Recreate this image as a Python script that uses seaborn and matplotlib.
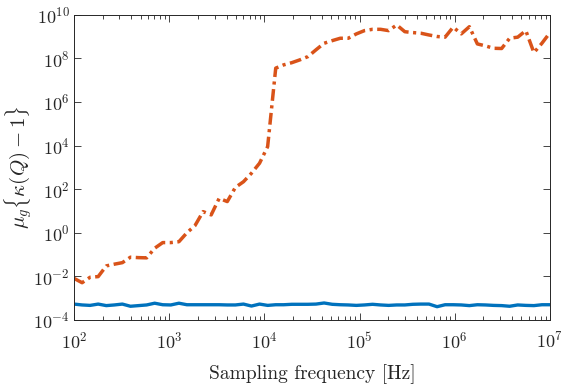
import matplotlib
matplotlib.use('Agg')
import matplotlib.pyplot as plt
import matplotlib.ticker as mticker
import numpy as np
import pandas as pd
import seaborn as sns

# sampling frequencies, log10(Hz)
freq_exp = [2.000, 2.085, 2.169, 2.254, 2.339, 2.424, 2.508, 2.593, 2.678, 2.763,
            2.847, 2.932, 3.017, 3.102, 3.186, 3.271, 3.356, 3.441, 3.525, 3.610,
            3.695, 3.780, 3.864, 3.949, 4.034, 4.119, 4.203, 4.288, 4.373, 4.458,
            4.542, 4.627, 4.712, 4.797, 4.881, 4.966, 5.051, 5.136, 5.220, 5.305,
            5.390, 5.475, 5.559, 5.644, 5.729, 5.814, 5.898, 5.983, 6.068, 6.153,
            6.237, 6.322, 6.407, 6.492, 6.576, 6.661, 6.746, 6.831, 6.915, 7.000]

# log10 of mu_g{kappa(Q)-1}, blue (solid) series
blue_exp = [-3.27, -3.31, -3.33, -3.27, -3.34, -3.31, -3.27, -3.37, -3.34, -3.31,
            -3.23, -3.30, -3.31, -3.23, -3.30, -3.30, -3.30, -3.30, -3.30, -3.31,
            -3.31, -3.27, -3.36, -3.27, -3.33, -3.30, -3.30, -3.28, -3.28, -3.28,
            -3.27, -3.22, -3.28, -3.30, -3.31, -3.33, -3.31, -3.28, -3.31, -3.33,
            -3.31, -3.31, -3.28, -3.27, -3.27, -3.39, -3.30, -3.30, -3.31, -3.34,
            -3.30, -3.31, -3.33, -3.34, -3.37, -3.31, -3.33, -3.34, -3.30, -3.30]

# log10 of mu_g{kappa(Q)-1}, orange (dash-dot) series
orange_exp = [-2.09, -2.29, -2.04, -2.01, -1.52, -1.44, -1.37, -1.12, -1.14, -1.15,
              -0.71, -0.45, -0.45, -0.41, 0.00, 0.33, 0.97, 0.82, 1.58, 1.43,
              2.08, 2.34, 2.73, 3.19, 3.95, 7.55, 7.70, 7.80, 7.93, 8.08,
              8.39, 8.69, 8.81, 8.92, 8.92, 9.12, 9.27, 9.33, 9.33, 9.27,
              9.53, 9.22, 9.18, 9.15, 9.07, 9.00, 8.97, 9.43, 9.12, 9.45,
              8.66, 8.57, 8.46, 8.45, 8.92, 8.97, 9.27, 8.26, 8.69, 9.18]

x_ticks = [1e2, 1e3, 1e4, 1e5, 1e6, 1e7]
y_ticks = [1e-4, 1e-2, 1e0, 1e2, 1e4, 1e6, 1e8, 1e10]

BLUE = '#0072BD'
ORANGE = '#D95319'
INK = '#262626'

sns.set_style('ticks')
plt.rcParams['font.family'] = ['cmr10', 'DejaVu Serif']
plt.rcParams['mathtext.fontset'] = 'cm'
plt.rcParams['axes.formatter.use_mathtext'] = True
plt.rcParams['axes.unicode_minus'] = False


def main():
    freq = 10.0 ** np.array(freq_exp)
    df = pd.DataFrame({
        'freq': np.concatenate([freq, freq]),
        'value': np.concatenate([10.0 ** np.array(blue_exp), 10.0 ** np.array(orange_exp)]),
        'series': ['blue'] * len(freq) + ['orange'] * len(freq),
    })

    fig = plt.figure(figsize=(5.61, 3.85), dpi=100)
    ax = fig.add_axes([74 / 561, 1 - 320 / 385, 476 / 561, (320 - 14.7) / 385])

    sns.lineplot(data=df[df.series == 'blue'], x='freq', y='value',
                 color=BLUE, lw=2.4, ax=ax)
    sns.lineplot(data=df[df.series == 'orange'], x='freq', y='value',
                 color=ORANGE, lw=2.5, linestyle=(0, (3.4, 1.3, 0.9, 1.3)), ax=ax)

    ax.set_xscale('log')
    ax.set_yscale('log')
    ax.set_xlim(1e2, 1e7)
    ax.set_ylim(1e-4, 1e10)
    ax.set_xticks(x_ticks)
    ax.set_yticks(y_ticks)
    ax.xaxis.set_minor_locator(mticker.LogLocator(base=10, subs=np.arange(2, 10), numticks=20))
    ax.yaxis.set_minor_locator(mticker.NullLocator())

    ax.tick_params(which='both', direction='in', top=True, right=True,
                   colors=INK, labelsize=13)
    ax.tick_params(which='major', length=5, width=0.6)
    ax.tick_params(which='minor', length=3, width=0.6)
    ax.tick_params(axis='x', which='major', pad=8)
    ax.tick_params(axis='y', which='major', pad=3)
    for s in ax.spines.values():
        s.set_color(INK)
        s.set_linewidth(0.7)

    ax.set_xlabel('Sampling frequency [Hz]', fontsize=14, color=INK, labelpad=9)
    ax.set_ylabel(r'$\mu_g\{\kappa(Q)-1\}$', fontsize=15, color=INK)
    ax.yaxis.set_label_coords(-0.082, 0.5)

    plt.savefig('out.png', dpi=100)


if __name__ == '__main__':
    main()
